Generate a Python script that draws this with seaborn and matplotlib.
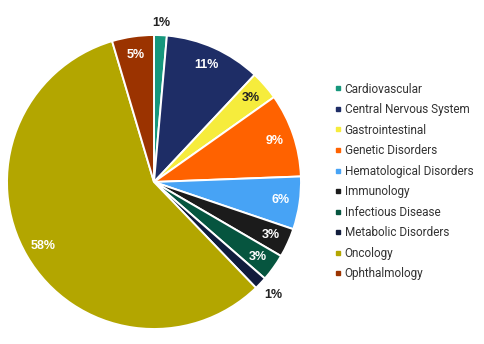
import matplotlib
matplotlib.use("Agg")
import matplotlib.pyplot as plt
from matplotlib.lines import Line2D
import numpy as np
import seaborn as sns

categories = [
    "Cardiovascular", "Central Nervous System", "Gastrointestinal",
    "Genetic Disorders", "Hematological Disorders", "Immunology",
    "Infectious Disease", "Metabolic Disorders", "Oncology", "Ophthalmology",
]
shares = [1.4, 10.6, 3.2, 9.2, 5.8, 3.2, 3.0, 1.4, 57.6, 4.6]
hex_colors = [
    "#16977c", "#1e2d66", "#f6ec3c", "#ff6200", "#47a3f5",
    "#1b1b1b", "#06553f", "#111c3c", "#b3a600", "#9b3300",
]

sns.set_theme(style="white")
palette = sns.color_palette(hex_colors)

fig = plt.figure(figsize=(4.85, 3.44), dpi=100)
fig.patch.set_facecolor("white")
cx, cy, r = 154, 182, 147
ax = fig.add_axes([(cx - r) / 485, (344 - cy - r) / 344, 2 * r / 485, 2 * r / 344])

wedges, _ = ax.pie(
    shares, colors=palette, startangle=90, counterclock=False,
    radius=1.0, wedgeprops=dict(edgecolor="white", linewidth=1.4),
)
ax.set_xlim(-1, 1)
ax.set_ylim(-1, 1)
ax.set_aspect("equal")
ax.axis("off")

total = sum(shares)
dark_inside = {"Gastrointestinal"}
outside = {"Cardiovascular": 1.08, "Metabolic Disorders": 1.12}
start = 90.0
for name, val in zip(categories, shares):
    span = 360.0 * val / total
    mid = np.deg2rad(start - span / 2)
    start -= span
    dist = outside.get(name, 0.87)
    color = "#222222" if (name in outside or name in dark_inside) else "white"
    ax.text(dist * np.cos(mid), dist * np.sin(mid), f"{val:.0f}%",
            ha="center", va="center", fontsize=9, fontweight="bold",
            color=color, family=["Liberation Sans", "DejaVu Sans"])

handles = [Line2D([0], [0], marker="s", linestyle="none", markersize=3.2,
                  markerfacecolor=c, markeredgecolor=c) for c in palette]
leg = fig.legend(
    handles, categories, loc="center left",
    bbox_to_anchor=(324 / 485, 1 - 181.5 / 344), frameon=False,
    labelspacing=0.64, handlelength=0.5, handletextpad=0.35,
    prop={"family": ["Roboto", "DejaVu Sans"], "size": 8.5},
)
for t in leg.get_texts():
    t.set_color("#333333")

fig.savefig("out.png", dpi=100)
